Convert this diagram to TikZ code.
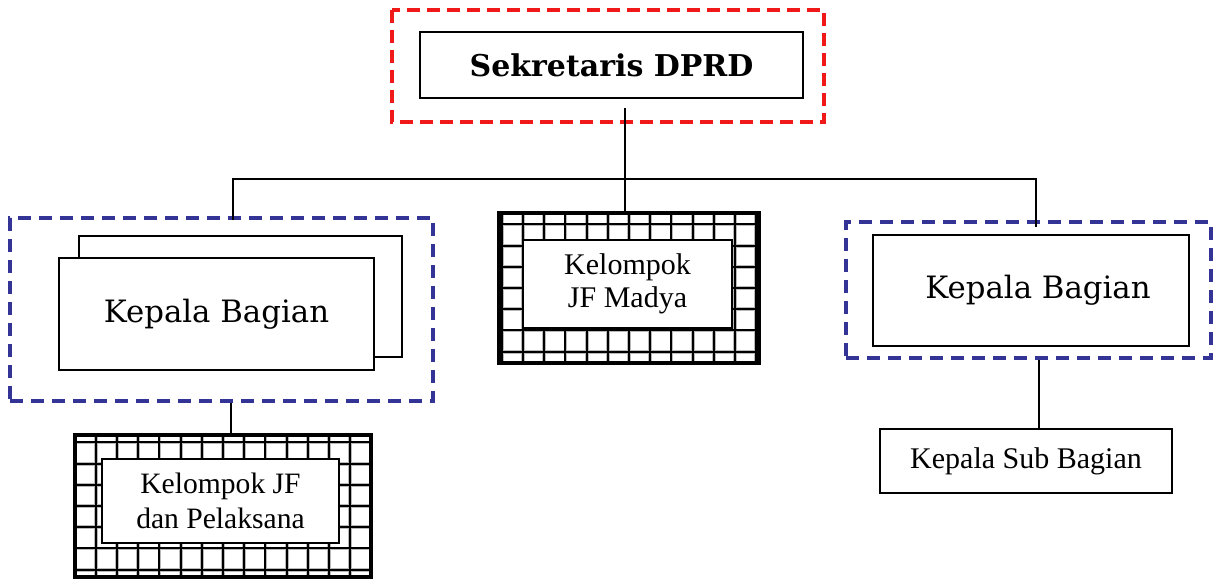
\documentclass[tikz,border=0pt]{standalone}
\usepackage{fontspec}
\setmainfont{DejaVu Serif}
\newfontfamily\jfont{Liberation Serif}
\usetikzlibrary{calc,positioning}
\definecolor{sekred}{RGB}{240,25,25}
\definecolor{bagblue}{RGB}{52,52,150}

\tikzset{
  jabatan/.style={draw,line width=1.3pt,fill=white,inner sep=0pt,align=center},
  grupbox/.style={draw=bagblue,line width=1.7pt,dash pattern=on 6.5pt off 4pt,inner sep=0pt},
  kelompok/.style={draw,line width=1.7pt,fill=white,inner sep=0pt,path picture={
      \draw[gray!55,line width=1.9pt] (path picture bounding box.south west) grid[step=10.6pt] (path picture bounding box.north east);
      \draw[black,line width=1pt] (path picture bounding box.south west) grid[step=10.6pt] (path picture bounding box.north east);}},
  garis/.style={line width=0.6pt}
}

\begin{document}
\begin{tikzpicture}[x=0.5pt,y=-0.5pt]
  \useasboundingbox (0,0) rectangle (1218,578);
  % sekretaris
  \draw[sekred,line width=1.8pt,dash pattern=on 6.5pt off 3.5pt] (392,10) rectangle (824,122);
  \node[jabatan,minimum width=191.5pt,minimum height=33pt,font=\bfseries\fontsize{15}{18}\selectfont]
    (sek) at (611.5,65) {Sekretaris DPRD};
  % bagian kiri
  \node[grupbox,minimum width=211.5pt,minimum height=91.5pt] (grpL) at (221.5,309.5) {};
  \node[jabatan,line width=0.9pt,minimum width=161.5pt,minimum height=60.5pt] (kabagB) at (240.5,296.5) {};
  \node[jabatan,minimum width=157.5pt,minimum height=56pt,font=\fontsize{15.4}{18}\selectfont]
    (kabagL) at (216.5,314) {Kepala Bagian};
  \node[kelompok,minimum width=148pt,minimum height=71pt] (jfL) at (223,506) {};
  \node[jabatan,line width=0.9pt,minimum width=118.5pt,minimum height=42pt,font=\jfont\fontsize{14.8}{17.5}\selectfont]
    (jfLtext) at (220.5,501) {Kelompok JF\\dan Pelaksana};
  % kelompok tengah
  \node[kelompok,minimum width=130pt,minimum height=75pt] (madya) at (629,288) {};
  \node[jabatan,line width=0.9pt,minimum width=104.5pt,minimum height=44pt,font=\jfont\fontsize{15}{16.5}\selectfont]
    (madyatext) at (627.5,284) {Kelompok\\JF Madya};
  % bagian kanan
  \node[grupbox,minimum width=182.5pt,minimum height=68pt] (grpR) at (1028.5,290) {};
  \node[jabatan,minimum width=158pt,minimum height=55.5pt,font=\fontsize{15.4}{18}\selectfont]
    (kabagR) at (1031,290.5) {\hspace{7pt}Kepala Bagian};
  \node[jabatan,line width=1.1pt,minimum width=146pt,minimum height=32pt,font=\jfont\fontsize{15}{18}\selectfont]
    (subbag) at (1026,461) {Kepala Sub Bagian};
  % garis
  \coordinate (bus) at (625,179);
  \draw[garis,shorten <=4.5pt] (sek.south -| bus) -- (madya.north -| bus);
  \draw[garis] ([xshift=5.75pt,yshift=-2pt]grpL.north) |- (bus) -| ([xshift=3.75pt,yshift=-3.5pt]grpR.north);
  \draw[garis] ([xshift=4.75pt]grpL.south) -- ([xshift=4.75pt]grpL.south |- jfL.north);
  \draw[garis] ([xshift=5.25pt]grpR.south) -- ([xshift=5.25pt]grpR.south |- subbag.north);
\end{tikzpicture}
\end{document}
